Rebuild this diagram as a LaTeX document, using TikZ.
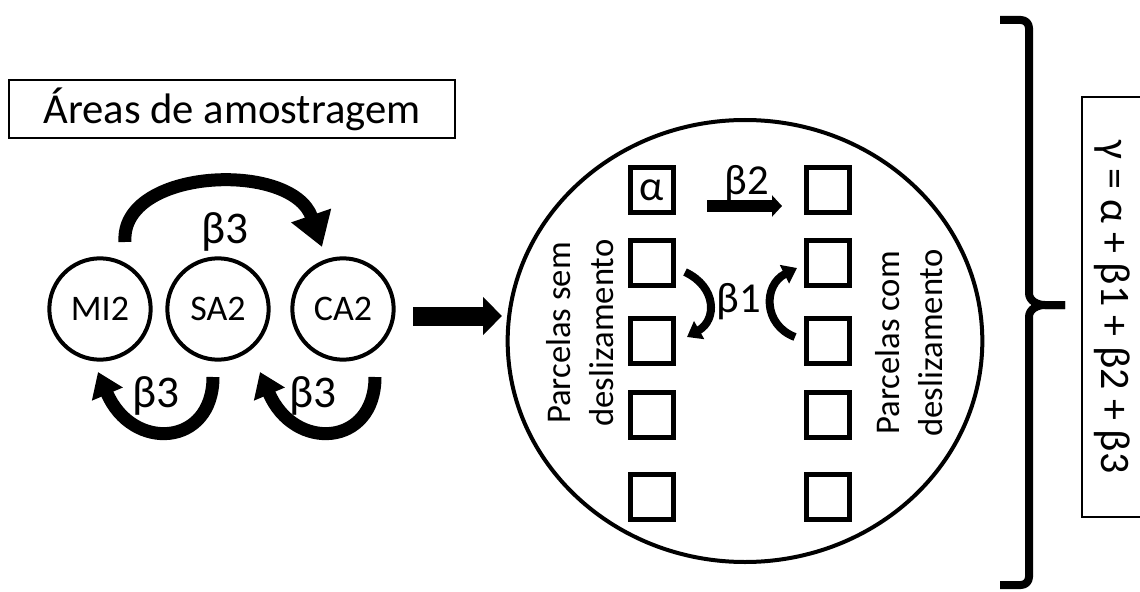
\documentclass[tikz,border=0pt]{standalone}
\usepackage{fontspec}
\setmainfont{Carlito}
\usetikzlibrary{arrows.meta,shapes.geometric}
\begin{document}
\begin{tikzpicture}[x=0.75pt,y=-0.75pt,
  every node/.style={inner sep=0pt},
  area/.style={circle,draw,line width=3pt,minimum size=76pt,font=\fontsize{27}{32}\selectfont},
  plotbox/.style={draw,line width=3.75pt,minimum width=32pt,minimum height=34pt},
  lbl/.style={font=\fontsize{34}{40}\selectfont},
  lblb/.style={font=\fontsize{32}{38}\selectfont},
  side/.style={rotate=90,align=center,font=\fontsize{26}{32}\selectfont},
  arcA/.style={line width=9.75pt,-{Triangle[width=30pt,length=25pt]}},
  arcB/.style={line width=9.75pt,-{Triangle[width=24pt,length=18pt]}},
  arcC/.style={line width=6pt,-{Triangle[width=15pt,length=10.5pt]}},
  bigarr/.style={line width=14.25pt,-{Triangle[width=27.75pt,length=14.25pt]}},
  midarr/.style={line width=9pt,-{Triangle[width=15.75pt,length=7.5pt]}},
  brace/.style={line width=6pt,line join=round}
]
\useasboundingbox (0,0) rectangle (1140,592);

% title
\node[draw,line width=2pt,minimum width=334.5pt,minimum height=43.5pt,
      font=\fontsize{32}{38}\selectfont] (title) at (232,109) {Áreas de amostragem};

% sampling areas
\node[area] (mi) at (100,309) {MI2};
\node[area] (sa) at (218,309) {SA2};
\node[area] (ca) at (343,309) {CA2};

\coordinate (a1) at (125,242);
\coordinate (a2) at (322,247);
\draw[arcA] (a1) .. controls (120,168) and (292,160) .. (a2);
\node[lbl] (b3t) at (225,232) {β3};

\coordinate (l1) at (213,377);
\coordinate (l2) at (98,372);
\draw[arcB] (l1) .. controls (213,447) and (132,452) .. (l2);
\node[lbl] (b3l) at (156,396) {β3};

\coordinate (r1) at (375,377);
\coordinate (r2) at (260,372);
\draw[arcB] (r1) .. controls (375,447) and (294,452) .. (r2);
\node[lbl] (b3r) at (313,396) {β3};

% big arrow
\coordinate (p1) at (413,316);
\coordinate (p2) at (502,316);
\draw[bigarr] (p1) -- (p2);

% field ellipse
\node[ellipse,draw,line width=3pt,minimum width=356pt,minimum height=331.5pt] (field) at (745,341) {};

% plots
\node[plotbox,font=\fontsize{32}{38}\selectfont] (L1) at (652,190) {α};
\node[plotbox] (L2) at (652,263) {};
\node[plotbox] (L3) at (652,341) {};
\node[plotbox] (L4) at (652,415) {};
\node[plotbox] (L5) at (652,497) {};
\node[plotbox] (R1) at (828,190) {};
\node[plotbox] (R2) at (828,263) {};
\node[plotbox] (R3) at (828,341) {};
\node[plotbox] (R4) at (828,415) {};
\node[plotbox] (R5) at (828,497) {};

\node[side] (sem) at (580,333) {Parcelas sem\\deslizamento};
\node[side] (com) at (909,343) {Parcelas com\\deslizamento};

% beta2
\coordinate (q1) at (707,206);
\coordinate (q2) at (782,206);
\draw[midarr] (q1) -- (q2);
\node[lblb] (b2) at (747,184) {β2};

% beta1
\coordinate (c1) at (685,272);
\coordinate (c2) at (687,337);
\draw[arcC] (c1) .. controls (717,287) and (717,320) .. (c2);
\coordinate (d1) at (795,337);
\coordinate (d2) at (797,268);
\draw[arcC] (d1) .. controls (763,325) and (763,285) .. (d2);
\node[lblb] (b1) at (739,302) {β1};

% brace
\coordinate (bt) at (1000,20);
\coordinate (bm) at (1065,305);
\coordinate (bb) at (1000,585);
\draw[brace] (bt) -- (1021,20) to[out=0,in=90] (1029,28) -- (1029,293)
   to[out=-90,in=180] (1045,305) -- (bm);
\draw[brace] (bm) -- (1045,305) to[out=180,in=90] (1029,317) -- (1029,577)
   to[out=-90,in=0] (1021,585) -- (bb);

% formula
\node[draw,line width=2pt,rotate=-90,minimum width=315pt,minimum height=45pt,
      font=\fontsize{31.5}{38}\selectfont] (gamma) at (1112,307) {γ = α + β1 + β2 + β3};
\end{tikzpicture}
\end{document}
